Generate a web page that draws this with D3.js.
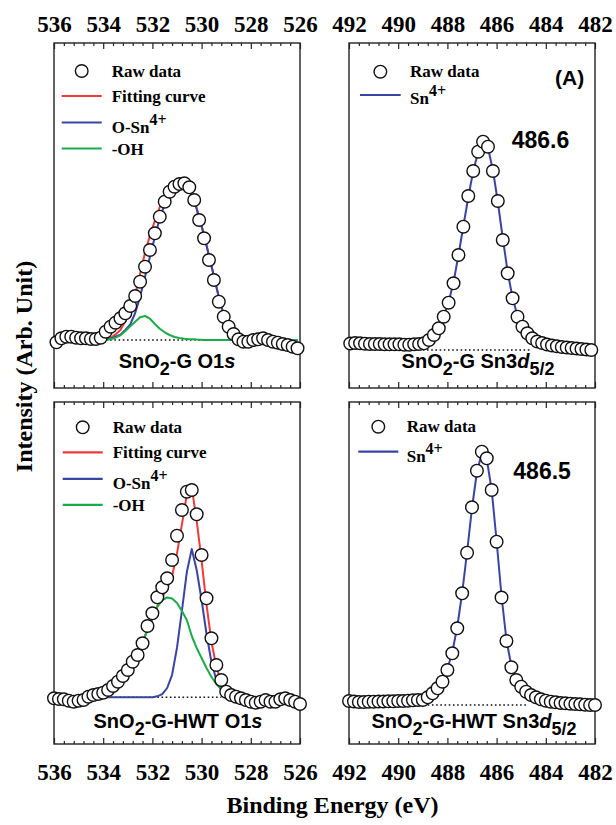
<!DOCTYPE html>
<html>
<head>
<meta charset="utf-8">
<script src="https://cdn.jsdelivr.net/npm/d3@7"></script>
<style>
  html, body { margin: 0; padding: 0; background: #fff; }
  svg { display: block; }
</style>
</head>
<body>
<svg id="chart" width="616" height="825"></svg>
<script>
// ---- tick labels ----
const ticksO1s = [536, 534, 532, 530, 528, 526];
const ticksSn  = [492, 490, 488, 486, 484, 482];

// ---- SnO2-G, O1s ----
const gO1sEnergy = [535.9,535.7,535.5,535.3,535.1,534.9,534.7,534.5,534.3,534.1,533.9,533.7,533.5,533.3,533.1,532.9,532.7,532.5,532.3,532.1,531.9,531.7,531.5,531.3,531.1,530.9,530.7,530.5,530.3,530.1,529.9,529.7,529.5,529.3,529.1,528.9,528.7,528.5,528.3,528.1,527.9,527.7,527.5,527.3,527.1,526.9,526.7,526.5,526.3,526.1];
const gO1sRaw = [45.7,49.7,51.3,51.3,50.3,49.7,49.7,49,49,50.3,56.3,61.3,65.3,69.7,74.7,82,92,106.3,121.3,138,154.7,171.3,186.3,196.3,201.3,204,204.7,200.7,188,168,149.7,128,108,86.3,71.3,61.3,54,48.7,46.3,46.3,48,48.7,49.7,48,46.3,45.3,44,43,41.3,39.7];
const gO1sFit = [48,48,48,48,48,48,48,48,48,48,48.6,50,53.6,58,67,77.4,93.3,114,135.3,152.6,167.3,181,191.7,199.7,204,204.5,203,198.5,188.7,170.6,153,132.3,112,90.7,73,61.3,54.7,50.7,49.3,48.7,48,48,48,48,48,48,48,48,48,48];
const gO1sSn = [48,48,48,48,48,48,48,48,48,48,48.3,49.2,51.3,53.3,58,63.7,75,91.3,111.3,131.3,151.3,169.7,184,194.7,201,202.5,201.7,197.7,188,170.3,153,132.3,112,90.7,73,61.3,54.7,50.7,49.3,48.7,48,48,48,48,48,48,48,48,48,48];
const gO1sOH = [48,48,48,48,48,48,48,48,48,48,48.3,48.8,50.3,52.7,57,61.7,66.3,70.7,72,69.3,64,59.3,55.7,53,51,50,49.3,48.8,48.7,48.3,48,48,48,48,48,48,48,48,48,48,48,48,48,48,48,48,48,48,48,48];
const gO1sBase = 48, gO1sBaseRange = [534.4, 527.6];

// ---- SnO2-G, Sn3d5/2 ----
const gSnEnergy = [491.95,491.75,491.55,491.35,491.15,490.95,490.75,490.55,490.35,490.15,489.95,489.75,489.55,489.35,489.15,488.95,488.75,488.55,488.35,488.15,487.95,487.75,487.55,487.35,487.15,486.95,486.75,486.55,486.35,486.15,485.95,485.75,485.55,485.35,485.15,484.95,484.75,484.55,484.35,484.15,483.95,483.75,483.55,483.35,483.15,482.95,482.75,482.55,482.35,482.15];
const gSnRaw = [44.5,45,44.7,44.3,44,44,44,43.7,43.7,43.7,43.7,43.3,43.3,43.7,44,44.7,48,53,59.7,71.3,85.3,104.7,133,161.3,192,217,236.3,246.3,241.3,217,187,148,114.7,89.7,71.3,61.3,54.7,49.7,46.5,45,43.5,42.5,41.7,41,40.5,40,39.5,39,38.5,38];
const gSnFit = [44,44,44,44,44,44,44,44,44,44,44,44,44,44,44,45.5,48.5,53.5,61,72,86,106,133,162,191,217,236,245,240,218,186,150,116,90,72,60.5,53.5,49,46,44,43,42,41.5,41,40.5,40,39.5,39,38.5,38];
const gSnBase = 38, gSnBaseRange = [489.0, 484.6];

// ---- SnO2-G-HWT, O1s ----
const hO1sEnergy = [536.0,535.8,535.6,535.4,535.2,535.0,534.8,534.6,534.4,534.2,534.0,533.8,533.6,533.4,533.2,533.0,532.8,532.6,532.4,532.2,532.0,531.8,531.6,531.4,531.2,531.0,530.8,530.6,530.4,530.2,530.0,529.8,529.6,529.4,529.2,529.0,528.8,528.6,528.4,528.2,528.0,527.8,527.6,527.4,527.2,527.0,526.8,526.6,526.4,526.2,526.0];
const hO1sRaw = [45.7,45,44.7,43.3,42.3,43.3,44,47.3,49,50,51.3,54,58,62.3,68,74,82.3,89,100.7,118,130.7,146.7,156.7,165.7,184,208.3,234,252.3,254,229.7,189,145.7,105.7,79,64,52.3,49,47.3,45.7,44,42.3,41.3,42.3,44,42.3,42.3,44.7,45.7,44,42.3,40];
const hO1sFit = [46.7,46.7,46.7,46.7,46.7,46.7,46.7,46.7,47,48,49.5,51.5,55,59,65,72,80,90,102,114,126,138,147.1,155.8,168,190.6,219.6,249.3,256.3,223.3,183.3,139.3,102.3,77.3,61.8,53.3,49.3,47.5,46.7,46.7,46.7,46.7,46.7,46.7,46.7,46.7,46.7,46.7,46.7,46.7,46.7];
const hO1sSn = [46.7,46.7,46.7,46.7,46.7,46.7,46.7,46.7,46.7,46.7,46.7,46.7,46.7,46.7,46.7,46.7,46.7,46.7,46.7,46.7,46.7,47.7,49.8,56,69.2,96.3,133.3,172,195,174,144,110,82,64,53.5,49,47.5,46.7,46.7,46.7,46.7,46.7,46.7,46.7,46.7,46.7,46.7,46.7,46.7,46.7,46.7];
const hO1sOH = [46.7,46.7,46.7,46.7,46.7,46.7,46.7,46.7,47,48,49.5,51.5,55,59,65,72,80,90,102,114,126,137,144,146.5,145.5,141,133,124,108,96,86,76,67,60,55,51,48.5,47.5,46.7,46.7,46.7,46.7,46.7,46.7,46.7,46.7,46.7,46.7,46.7,46.7,46.7];
const hO1sBase = 46.7, hO1sBaseRange = [533.85, 529.2];

// ---- SnO2-G-HWT, Sn3d5/2 ----
const hSnEnergy = [492.0,491.8,491.6,491.4,491.2,491.0,490.8,490.6,490.4,490.2,490.0,489.8,489.6,489.4,489.2,489.0,488.8,488.6,488.4,488.2,488.0,487.8,487.6,487.4,487.2,487.0,486.8,486.6,486.4,486.2,486.0,485.8,485.6,485.4,485.2,485.0,484.8,484.6,484.4,484.2,484.0,483.8,483.6,483.4,483.2,483.0,482.8,482.6,482.4,482.2,482.0];
const hSnRaw = [43,42.5,42,42,42.3,42.3,42.5,42.5,42.7,42.7,43,43,43.3,43.7,44,44,46.7,50.7,55.7,62.3,74,90.7,115.7,150.7,191.3,236.7,273.3,292.3,285.7,254,202.3,146.5,103,76.7,64,57.3,52.3,49,46.7,44.7,43.3,42.3,41.7,41,40.7,40.3,40,39.7,39.3,39,39];
const hSnFit = [43,43,43,43,43,43,43,43,43,43,43,43,43,43,43,43,46,50,55.5,63,75,92,117,151,192,236,272,291,285,254,203,148,104,78,64.5,57,52,48.5,46.5,44.5,43,42.3,41.7,41,40.7,40.3,40,39.7,39.3,39,39];
const hSnBase = 39, hSnBaseRange = [488.8, 484.8];

// ---- styles ----
const COL = { fit: "#ee3a3a", sn: "#3a44a3", oh: "#1cab4a", ink: "#111", frame: "#222" };
const SERIF = "'Liberation Serif', 'Times New Roman', Times, serif";
const SANS = "'Liberation Sans', Arial, Helvetica, sans-serif";

const svg = d3.select("#chart");

function drawPanel(p) {
  const x = d3.scaleLinear().domain(p.domainX).range([p.x0, p.x1]);
  const y = d3.scaleLinear().domain([0, p.y1 - p.y0]).range([p.y1, p.y0]);
  const g = svg.append("g");

  // frame
  g.append("rect")
    .attr("x", p.x0).attr("y", p.y0)
    .attr("width", p.x1 - p.x0).attr("height", p.y1 - p.y0)
    .attr("fill", "none").attr("stroke", COL.frame).attr("stroke-width", 1.4);

  const lo = Math.min(...p.domainX), hi = Math.max(...p.domainX);
  const minorTicks = d3.range(lo, hi + 0.001, 0.4).map(v => +v.toFixed(1))
    .filter(v => !p.ticks.includes(v));

  function styleAxis(sel) {
    sel.select(".domain").remove();
    sel.selectAll(".tick line").attr("stroke", COL.frame).attr("stroke-width", 1.2);
    sel.attr("font-family", SERIF).attr("font-size", 23).attr("font-weight", "bold");
    sel.selectAll(".tick text").attr("fill", "#000");
  }

  // top edge: major + minor inward ticks
  g.append("g").attr("transform", `translate(0,${p.y0})`)
    .call(d3.axisTop(x).tickValues(p.ticks).tickSize(-6).tickPadding(11)
      .tickFormat(p.topLabels ? d3.format("d") : () => ""))
    .call(styleAxis);
  g.append("g").attr("transform", `translate(0,${p.y0})`)
    .call(d3.axisTop(x).tickValues(minorTicks).tickSize(-3).tickFormat(() => ""))
    .call(styleAxis);

  // bottom edge
  g.append("g").attr("transform", `translate(0,${p.y1})`)
    .call(d3.axisBottom(x).tickValues(p.ticks).tickSize(-6).tickPadding(20)
      .tickFormat(p.bottomLabels ? d3.format("d") : () => ""))
    .call(styleAxis);
  g.append("g").attr("transform", `translate(0,${p.y1})`)
    .call(d3.axisBottom(x).tickValues(minorTicks).tickSize(-3).tickFormat(() => ""))
    .call(styleAxis);

  // flat background
  g.append("line")
    .attr("x1", x(p.baseRange[0])).attr("x2", x(p.baseRange[1]))
    .attr("y1", y(p.base)).attr("y2", y(p.base))
    .attr("stroke", "#111").attr("stroke-width", 1.6).attr("stroke-dasharray", "1.6,2.6");

  const line = d3.line().x((d, i) => x(p.energy[i])).y(d => y(d));
  p.curves.forEach(c => {
    g.append("path").datum(c.values)
      .attr("d", line)
      .attr("fill", "none").attr("stroke", c.color).attr("stroke-width", 2)
      .attr("stroke-linejoin", "round");
  });

  g.selectAll("circle.raw").data(p.raw).join("circle")
    .attr("class", "raw")
    .attr("cx", (d, i) => x(p.energy[i])).attr("cy", d => y(d))
    .attr("r", 6.3).attr("fill", "#fff").attr("stroke", COL.ink).attr("stroke-width", 1.4);

  // legend
  const lg = g.append("g").attr("font-family", SERIF).attr("font-weight", "bold").attr("font-size", 17);
  p.legend.forEach(item => {
    if (item.type === "circle") {
      lg.append("circle").attr("cx", (item.lx0 + item.lx1) / 2).attr("cy", item.ly)
        .attr("r", 6.3).attr("fill", "#fff").attr("stroke", COL.ink).attr("stroke-width", 1.4);
    } else {
      lg.append("line").attr("x1", item.lx0).attr("x2", item.lx1)
        .attr("y1", item.ly).attr("y2", item.ly)
        .attr("stroke", item.color).attr("stroke-width", 2.2);
    }
    const t = lg.append("text").attr("x", item.tx).attr("y", item.ty);
    t.append("tspan").text(item.text);
    if (item.sup) t.append("tspan").attr("dy", -8).attr("font-size", 16).text(item.sup);
  });

  // sample label
  const lt = g.append("text").attr("x", p.label.x).attr("y", p.label.y)
    .attr("text-anchor", "middle").attr("font-family", SANS)
    .attr("font-weight", "bold").attr("font-size", 20).attr("fill", "#000");
  p.label.parts.forEach(part => {
    const ts = lt.append("tspan").text(part.t);
    if (part.sub) ts.attr("font-size", 18).attr("dy", 7);
    if (part.up) ts.attr("dy", -7);
    if (part.it) ts.attr("font-style", "italic");
  });

  // annotations
  (p.notes || []).forEach(n => {
    g.append("text").attr("x", n.x).attr("y", n.y)
      .attr("font-family", SANS).attr("font-weight", "bold")
      .attr("font-size", n.size).attr("fill", "#000").text(n.text);
  });
}

const legendO1s = (top) => [
  { type: "circle", lx0: 61.7, lx1: 101.7, ly: top, tx: 111.7, ty: top + 5.5, text: "Raw data" },
  { type: "line", color: COL.fit, lx0: 61.7, lx1: 101.7, ly: top + 25, tx: 111.7, ty: top + 30.7, text: "Fitting curve" },
  { type: "line", color: COL.sn, lx0: 61.7, lx1: 101.7, ly: top + 51.5, tx: 111.7, ty: top + 61.7, text: "O-Sn", sup: "4+" },
  { type: "line", color: COL.oh, lx0: 61.7, lx1: 101.7, ly: top + 77.5, tx: 111.7, ty: top + 84, text: "-OH" }
];

drawPanel({
  x0: 54, x1: 300, y0: 43, y1: 388, domainX: [536, 526], ticks: ticksO1s,
  topLabels: true, bottomLabels: false,
  energy: gO1sEnergy, raw: gO1sRaw, base: gO1sBase, baseRange: gO1sBaseRange,
  curves: [{ values: gO1sFit, color: COL.fit }, { values: gO1sSn, color: COL.sn }, { values: gO1sOH, color: COL.oh }],
  legend: legendO1s(71),
  label: { x: 177, y: 368.3, parts: [{ t: "SnO" }, { t: "2", sub: true }, { t: "-G O1", up: true }, { t: "s", it: true }] }
});

drawPanel({
  x0: 349, x1: 595, y0: 43, y1: 388, domainX: [492, 482], ticks: ticksSn,
  topLabels: true, bottomLabels: false,
  energy: gSnEnergy, raw: gSnRaw, base: gSnBase, baseRange: gSnBaseRange,
  curves: [{ values: gSnFit, color: COL.sn }],
  legend: [
    { type: "circle", lx0: 360, lx1: 400.7, ly: 71.7, tx: 410, ty: 76.5, text: "Raw data" },
    { type: "line", color: COL.sn, lx0: 360, lx1: 400.7, ly: 95, tx: 410, ty: 104.3, text: "Sn", sup: "4+" }
  ],
  label: { x: 478, y: 368.3, parts: [{ t: "SnO" }, { t: "2", sub: true }, { t: "-G Sn3", up: true }, { t: "d", it: true }, { t: "5/2", sub: true }] },
  notes: [{ x: 555, y: 85, size: 21, text: "(A)" }, { x: 511.7, y: 148.3, size: 23, text: "486.6" }]
});

drawPanel({
  x0: 54, x1: 300, y0: 402, y1: 744, domainX: [536, 526], ticks: ticksO1s,
  topLabels: false, bottomLabels: true,
  energy: hO1sEnergy, raw: hO1sRaw, base: hO1sBase, baseRange: hO1sBaseRange,
  curves: [{ values: hO1sFit, color: COL.fit }, { values: hO1sSn, color: COL.sn }, { values: hO1sOH, color: COL.oh }],
  legend: legendO1s(427.3).map(d => Object.assign({}, d, { tx: 112.7, lx0: 62.7, lx1: 102.7 })),
  label: { x: 178, y: 728.3, parts: [{ t: "SnO" }, { t: "2", sub: true }, { t: "-G-HWT O1", up: true }, { t: "s", it: true }] }
});

drawPanel({
  x0: 349, x1: 595, y0: 402, y1: 744, domainX: [492, 482], ticks: ticksSn,
  topLabels: false, bottomLabels: true,
  energy: hSnEnergy, raw: hSnRaw, base: hSnBase, baseRange: hSnBaseRange,
  curves: [{ values: hSnFit, color: COL.sn }],
  legend: [
    { type: "circle", lx0: 358.3, lx1: 398.3, ly: 426.7, tx: 406.7, ty: 432.3, text: "Raw data" },
    { type: "line", color: COL.sn, lx0: 358.3, lx1: 398.3, ly: 451.7, tx: 406.7, ty: 461.7, text: "Sn", sup: "4+" }
  ],
  label: { x: 474, y: 728.3, parts: [{ t: "SnO" }, { t: "2", sub: true }, { t: "-G-HWT Sn3", up: true }, { t: "d", it: true }, { t: "5/2", sub: true }] },
  notes: [{ x: 513.3, y: 479.3, size: 23, text: "486.5" }]
});

// axis titles
svg.append("text").attr("x", 332.5).attr("y", 813)
  .attr("text-anchor", "middle").attr("font-family", SERIF)
  .attr("font-weight", "bold").attr("font-size", 24).text("Binding Energy (eV)");
svg.append("text").attr("transform", "translate(32,366.5) rotate(-90)")
  .attr("text-anchor", "middle").attr("font-family", SERIF)
  .attr("font-weight", "bold").attr("font-size", 24).text("Intensity (Arb. Unit)");
</script>
</body>
</html>
